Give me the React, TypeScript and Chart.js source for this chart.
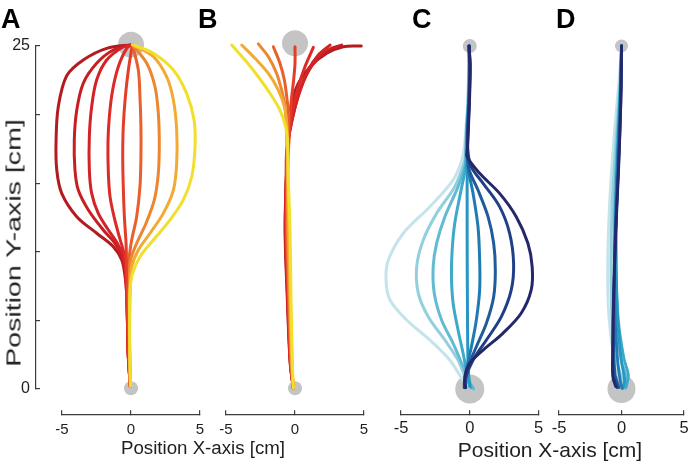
import React, { useEffect, useRef } from 'react';
import { Chart, registerables } from 'chart.js';

Chart.register(...registerables);

type Pt = [number, number];

const W = 698;
const H = 469;
const FONT = "'Liberation Sans', Arial, Helvetica, sans-serif";

// ---- axes / ticks ----
const X_TICKS = [-5, 0, 5];
const Y_TICKS = [0, 5, 10, 15, 20, 25];
const Y_LABELED = [0, 25];
const X_RANGE: [number, number] = [-5, 5];
const Y_RANGE: [number, number] = [0, 25];

// ---- colours ----
const WARM = ['#b31b1f', '#c81e22', '#d42326', '#dc2a27', '#e23e28', '#e8602b', '#ee852f', '#f3aa33', '#f2df2c'];
const COOL = ['#c4e4ec', '#94cfde', '#62bad3', '#3fa9cb', '#2697c2', '#1f7bb2', '#1f5c9b', '#213f86', '#24286b'];
const TARGET_COLOR = '#c4c4c4';

// ---- panel A (left to right: dark red ... yellow) ----
const A1: Pt[] = [[-0.05, 0.2], [-0.2, 2.5], [-0.26, 5], [-0.32, 7], [-0.43, 8.2], [-0.67, 9.4], [-1.28, 10.37], [-2.48, 11.35], [-3.93, 12.56], [-5.02, 14.26], [-5.38, 15.96], [-5.43, 18.15], [-5.27, 20.58], [-4.66, 22.83], [-3.46, 23.98], [-1.76, 24.83], [0.1, 25.1]];
const A2: Pt[] = [[-0.05, 0.2], [-0.2, 2.5], [-0.26, 5], [-0.32, 7], [-0.43, 8.67], [-0.67, 9.64], [-1.16, 10.62], [-2.01, 11.59], [-3.09, 13.05], [-3.82, 14.5], [-4.06, 15.96], [-4.11, 18.15], [-3.93, 20.33], [-3.46, 22.28], [-2.49, 23.74], [-1.28, 24.71], [0.1, 25.1]];
const A3: Pt[] = [[-0.05, 0.2], [-0.2, 2.5], [-0.26, 5], [-0.3, 7], [-0.4, 8.7], [-0.56, 9.64], [-0.99, 10.62], [-1.64, 11.59], [-2.37, 12.8], [-2.85, 14.26], [-3.02, 15.96], [-3.02, 18.39], [-2.85, 20.58], [-2.49, 22.52], [-1.76, 23.98], [-0.56, 24.95], [0.1, 25.1]];
const A4: Pt[] = [[-0.05, 0.2], [-0.2, 2.5], [-0.25, 5], [-0.3, 7], [-0.38, 8.7], [-0.51, 9.89], [-0.85, 11.1], [-1.23, 12.56], [-1.52, 14.02], [-1.64, 15.72], [-1.67, 17.91], [-1.57, 19.85], [-1.33, 21.79], [-0.92, 23.49], [-0.31, 24.83], [0.1, 25.1]];
const A5: Pt[] = [[-0.05, 0.2], [-0.18, 2.5], [-0.24, 5], [-0.28, 7], [-0.32, 9], [-0.36, 10.62], [-0.48, 12.56], [-0.56, 14.75], [-0.6, 16.93], [-0.56, 19.12], [-0.41, 21.3], [-0.19, 23.25], [0.1, 25.1]];
const A6: Pt[] = [[-0.05, 0.2], [-0.1, 2.5], [-0.12, 5], [-0.13, 7], [-0.12, 8.5], [-0.12, 9.64], [0.05, 10.86], [0.41, 12.56], [0.65, 14.75], [0.72, 16.93], [0.72, 19.12], [0.65, 21.3], [0.53, 23.25], [0.1, 25.1]];
const A7: Pt[] = [[-0.05, 0.2], [-0.1, 2.5], [-0.12, 5], [-0.12, 7.5], [-0.02, 9.4], [0.41, 10.62], [1.09, 12.08], [1.69, 13.78], [1.98, 15.72], [2.05, 17.91], [1.98, 20.09], [1.74, 22.03], [1.14, 23.74], [0.1, 25.1]];
const A8: Pt[] = [[-0.05, 0.2], [-0.1, 2.5], [-0.1, 5], [-0.05, 7.5], [0.05, 8.91], [0.53, 10.13], [1.38, 11.35], [2.34, 12.8], [3.07, 14.5], [3.31, 16.45], [3.31, 18.88], [3.07, 21.06], [2.58, 22.76], [1.62, 24.22], [0.1, 25.1]];
const A9: Pt[] = [[-0.03, 0.2], [-0.08, 2.5], [-0.1, 5], [-0.07, 7.22], [0.12, 8.43], [0.65, 9.64], [1.62, 10.86], [2.83, 12.32], [3.79, 13.78], [4.4, 15.47], [4.64, 17.66], [4.57, 19.61], [4.03, 21.55], [3.07, 23.25], [1.62, 24.47], [0.1, 25.1]];

// ---- panel B (left to right: yellow ... dark red) ----
const B1: Pt[] = [[-0.12, 0.05], [-0.19, 1.87], [-0.29, 6.73], [-0.36, 11.59], [-0.48, 15.23], [-0.53, 17.91], [-0.68, 19.12], [-1.09, 20.33], [-1.81, 21.55], [-2.66, 22.76], [-3.62, 23.98], [-4.59, 25.07]];
const B2: Pt[] = [[-0.12, 0.05], [-0.22, 1.9], [-0.35, 6.7], [-0.45, 11.6], [-0.52, 15.5], [-0.56, 18.2], [-0.6, 19.37], [-0.77, 20.58], [-1.21, 21.79], [-1.93, 23.0], [-2.9, 24.1], [-3.86, 25.07]];
const B3: Pt[] = [[-0.12, 0.05], [-0.25, 1.9], [-0.4, 6.7], [-0.52, 11.6], [-0.56, 15.5], [-0.6, 18.5], [-0.72, 20.58], [-0.97, 21.79], [-1.33, 23.0], [-1.93, 24.22], [-2.66, 25.15]];
const B4: Pt[] = [[-0.12, 0.05], [-0.28, 1.9], [-0.45, 6.7], [-0.58, 11.6], [-0.56, 15.5], [-0.5, 18.5], [-0.48, 20.09], [-0.6, 21.3], [-0.77, 22.52], [-1.09, 23.74], [-1.57, 24.95]];
const B5: Pt[] = [[-0.12, 0.05], [-0.3, 1.9], [-0.48, 6.7], [-0.62, 11.6], [-0.55, 15.5], [-0.42, 18.5], [-0.36, 19.85], [-0.24, 21.3], [-0.1, 22.52], [0, 23.74], [0, 24.95]];
const B6: Pt[] = [[-0.12, 0.05], [-0.32, 1.9], [-0.5, 6.7], [-0.66, 11.6], [-0.62, 15.5], [-0.53, 17.66], [-0.36, 19.12], [-0.12, 20.58], [0.24, 22.03], [0.72, 23.49], [1.33, 24.9]];
const B7: Pt[] = [[-0.12, 0.05], [-0.33, 1.9], [-0.52, 6.7], [-0.68, 11.6], [-0.64, 15.5], [-0.6, 17.42], [-0.36, 18.88], [-0.05, 20.33], [0.36, 21.79], [0.96, 23.25], [1.69, 24.34], [2.54, 25.07]];
const B8: Pt[] = [[-0.12, 0.05], [-0.34, 1.9], [-0.54, 6.7], [-0.7, 11.6], [-0.62, 15.5], [-0.48, 18.15], [-0.19, 19.73], [0.19, 21.19], [0.72, 22.65], [1.45, 23.86], [2.41, 24.71], [3.38, 25.07]];
const B9: Pt[] = [[-0.12, 0.05], [-0.35, 1.9], [-0.56, 6.7], [-0.72, 11.6], [-0.62, 15.5], [-0.5, 18], [-0.41, 19.12], [-0.24, 20.82], [0.24, 22.28], [1.09, 23.49], [2.3, 24.47], [3.5, 24.95], [4.8, 25.0]];

// ---- panel C (left to right: light cyan ... navy) ----
const C1: Pt[] = [[-0.05, 25], [-0.08, 23.5], [-0.15, 21], [-0.28, 19], [-0.4, 17.6], [-0.6, 16.6], [-1.21, 15.23], [-2.9, 13.29], [-4.83, 11.35], [-5.92, 9.4], [-6.09, 7.94], [-5.8, 6.49], [-4.59, 5.03], [-2.9, 3.57], [-1.45, 2.11], [-0.48, 0.66], [0.35, 0.0]];
const C2: Pt[] = [[-0.05, 25], [-0.06, 23.5], [-0.12, 21], [-0.24, 19], [-0.3, 17.5], [-0.36, 16.69], [-1.09, 14.75], [-2.41, 12.8], [-3.38, 10.86], [-3.86, 8.91], [-3.74, 6.97], [-3.02, 5.27], [-1.81, 3.57], [-0.85, 2.11], [-0.24, 0.66], [0.3, 0.0]];
const C3: Pt[] = [[-0.05, 25], [-0.05, 23.5], [-0.1, 21], [-0.22, 19], [-0.28, 17.5], [-0.31, 16.45], [-0.85, 14.75], [-1.81, 12.56], [-2.41, 10.62], [-2.66, 8.91], [-2.58, 6.97], [-2.05, 5.03], [-1.21, 3.33], [-0.48, 1.63], [0.1, 0.3], [0.3, 0.0]];
const C4: Pt[] = [[-0.05, 25], [-0.03, 23.5], [-0.08, 21], [-0.2, 19], [-0.24, 17.5], [-0.3, 16.2], [-0.68, 14.26], [-1.09, 12.08], [-1.28, 10.13], [-1.33, 8.19], [-1.21, 6.25], [-0.85, 4.3], [-0.43, 2.35], [-0.12, 0.66], [0.1, 0.1]];
const C5: Pt[] = [[-0.05, 25], [-0.02, 23.5], [-0.08, 21], [-0.18, 19], [-0.2, 17.5], [-0.19, 16.2], [-0.19, 11.35], [-0.17, 6.49], [-0.12, 1.63], [0.0, 0.2]];
const C6: Pt[] = [[-0.05, 25], [0.0, 23.5], [-0.06, 21], [-0.15, 19], [-0.18, 17.5], [-0.1, 16.0], [0.24, 14.26], [0.6, 11.83], [0.72, 9.4], [0.72, 7.22], [0.48, 5.03], [0.12, 3.08], [-0.24, 1.38], [-0.3, 0.3]];
const C7: Pt[] = [[-0.05, 25], [0.0, 23.5], [-0.05, 21], [-0.14, 19], [-0.16, 17.5], [-0.05, 16.0], [0.6, 14.5], [1.33, 12.56], [1.74, 10.62], [1.86, 8.67], [1.74, 6.73], [1.21, 4.79], [0.48, 3.08], [-0.12, 1.63], [-0.35, 0.5], [-0.3, 0.1]];
const C8: Pt[] = [[-0.05, 25], [0.02, 23.5], [-0.04, 21], [-0.12, 19], [-0.15, 17.5], [0.1, 16.2], [0.97, 14.99], [2.17, 13.29], [2.9, 11.35], [3.19, 9.16], [3.02, 7.22], [2.3, 5.27], [1.21, 3.57], [0.24, 2.11], [-0.36, 0.66], [-0.4, 0.1]];
const C9: Pt[] = [[-0.05, 25], [0.03, 23.5], [-0.02, 21], [-0.1, 19], [-0.16, 17.6], [-0.19, 16.93], [0.72, 15.72], [2.17, 14.26], [3.38, 12.56], [4.23, 10.62], [4.54, 8.91], [4.47, 7.22], [3.74, 5.52], [2.41, 4.06], [0.97, 2.84], [0.0, 1.87], [-0.36, 0.9], [-0.3, 0.1]];

// ---- panel D (light cyan ... navy) ----
const D1: Pt[] = [[0, 25], [-0.22, 22.28], [-0.58, 18.64], [-0.94, 13.78], [-1.11, 8.91], [-1.01, 5.27], [-0.58, 2.11], [-0.1, 0.66], [0.27, 0.05]];
const D2: Pt[] = [[0, 25], [-0.15, 22], [-0.45, 18], [-0.75, 13.5], [-0.85, 9], [-0.75, 5], [-0.35, 2], [0.1, 0.6], [0.35, 0.05]];
const D3: Pt[] = [[0, 25], [-0.1, 22], [-0.35, 18], [-0.55, 13.5], [-0.6, 9], [-0.45, 5], [-0.05, 2.2], [0.4, 0.8], [0.3, 0.05]];
const D4: Pt[] = [[0, 25], [-0.1, 22], [-0.3, 18], [-0.45, 13.5], [-0.45, 9], [-0.25, 5], [0.2, 2.2], [0.55, 1.0], [0.35, 0.1]];
const D5: Pt[] = [[0, 25], [-0.08, 22], [-0.25, 18], [-0.4, 13.5], [-0.42, 9], [-0.3, 5], [0.0, 2], [0.25, 0.6], [0.1, 0.05]];
const D6: Pt[] = [[0, 25], [-0.05, 22], [-0.25, 18], [-0.45, 13.5], [-0.55, 9], [-0.5, 5], [-0.3, 2], [-0.1, 0.6], [0.05, 0.05]];
const D7: Pt[] = [[0, 25], [-0.05, 22], [-0.22, 17], [-0.45, 12], [-0.6, 7], [-0.62, 3], [-0.5, 1], [-0.2, 0.1]];
const D8: Pt[] = [[0, 25], [-0.05, 21], [-0.25, 16], [-0.5, 11], [-0.65, 6.5], [-0.7, 3], [-0.65, 1], [-0.35, 0.1]];
const D9: Pt[] = [[0, 25], [-0.05, 21.06], [-0.22, 16.2], [-0.46, 11.35], [-0.63, 6.49], [-0.7, 2.84], [-0.7, 0.9], [-0.46, 0.17]];

// ---- targets: [x, y] and radius in px ----
const A_TARGETS: Pt[] = [[0, 25.1], [0, 0.05]];
const A_TARGET_R = [13, 7];
const B_TARGETS: Pt[] = [[0, 25.2], [0, 0.05]];
const B_TARGET_R = [13, 7];
const C_TARGETS: Pt[] = [[0, 25], [0, 0]];
const C_TARGET_R = [7, 14.5];
const D_TARGETS: Pt[] = [[0, 25], [0, 0]];
const D_TARGET_R = [6.5, 14];

interface Panel {
  curves: Pt[][];
  colors: string[];
  order: number[];
  targets: Pt[];
  targetR: number[];
  left: number;
  right: number;
  lineWidth: number;
  tickFont: number;
  labelPad: number;
  showY: boolean;
}

const TOP = 46;
const BOTTOM = 389;
const X_AXIS_Y = -1.895;
const Y_AXIS_X = -6.884;
const Y_LABEL_X = -7.32;

const PANELS: Panel[] = [
  {
    curves: [A1, A2, A3, A4, A5, A6, A7, A8, A9], colors: WARM,
    order: [9, 8, 7, 6, 5, 4, 3, 2, 1], targets: A_TARGETS, targetR: A_TARGET_R,
    left: 62, right: 200, lineWidth: 3, tickFont: 15, labelPad: 11, showY: true,
  },
  {
    curves: [B1, B2, B3, B4, B5, B6, B7, B8, B9], colors: [...WARM].reverse(),
    order: [1, 2, 3, 4, 5, 6, 7, 8, 9], targets: B_TARGETS, targetR: B_TARGET_R,
    left: 226, right: 364, lineWidth: 3, tickFont: 15, labelPad: 11, showY: false,
  },
  {
    curves: [C1, C2, C3, C4, C5, C6, C7, C8, C9], colors: COOL,
    order: [9, 8, 7, 6, 5, 4, 3, 2, 1], targets: C_TARGETS, targetR: C_TARGET_R,
    left: 401, right: 538.5, lineWidth: 3, tickFont: 16.5, labelPad: 9, showY: false,
  },
  {
    curves: [D1, D2, D3, D4, D5, D6, D7, D8, D9], colors: COOL,
    order: [9, 8, 7, 6, 5, 4, 3, 2, 1], targets: D_TARGETS, targetR: D_TARGET_R,
    left: 559, right: 696.5, lineWidth: 2.8, tickFont: 16.5, labelPad: 9, showY: false,
  },
];

const AXIS_COLOR = '#3c3c3c';
const TEXT_COLOR = '#1e1e1e';

function buildConfig(p: Panel): any {
  const datasets: any[] = p.curves.map((c, i) => ({
    data: c.map(([x, y]) => ({ x, y })),
    borderColor: p.colors[i],
    borderWidth: p.lineWidth,
    showLine: true,
    pointRadius: 0,
    tension: 0.33,
    clip: false,
    borderCapStyle: 'round',
    borderJoinStyle: 'round',
    order: p.order[i],
  }));
  datasets.push({
    data: p.targets.map(([x, y]) => ({ x, y })),
    pointRadius: p.targetR,
    pointBackgroundColor: TARGET_COLOR,
    pointBorderWidth: 0,
    showLine: false,
    clip: false,
    order: 50,
  });

  const scales: any = {
    x: {
      type: 'linear',
      min: X_RANGE[0],
      max: X_RANGE[1],
      position: { y: X_AXIS_Y },
      afterBuildTicks: (s: any) => { s.ticks = X_TICKS.map((v) => ({ value: v })); },
      ticks: { font: { family: FONT, size: p.tickFont }, color: TEXT_COLOR, padding: p.labelPad, maxRotation: 0 },
      grid: { drawOnChartArea: false, tickLength: -5, color: AXIS_COLOR, lineWidth: 1.2 },
      border: { color: AXIS_COLOR, width: 1.2 },
    },
    y: {
      type: 'linear',
      min: Y_RANGE[0],
      max: Y_RANGE[1],
      display: p.showY,
      position: { x: Y_AXIS_X },
      afterBuildTicks: (s: any) => { s.ticks = Y_TICKS.map((v) => ({ value: v })); },
      ticks: { display: false },
      grid: { drawOnChartArea: false, tickLength: -5, color: AXIS_COLOR, lineWidth: 1.2 },
      border: { color: AXIS_COLOR, width: 1.2 },
    },
  };
  if (p.showY) {
    scales.yLabels = {
      type: 'linear',
      axis: 'y',
      min: Y_RANGE[0],
      max: Y_RANGE[1],
      position: { x: Y_LABEL_X },
      afterBuildTicks: (s: any) => { s.ticks = Y_LABELED.map((v) => ({ value: v })); },
      ticks: { font: { family: FONT, size: 16 }, color: TEXT_COLOR, padding: 0 },
      grid: { display: false, drawTicks: false },
      border: { display: false },
    };
  }

  return {
    type: 'scatter',
    data: { datasets },
    options: {
      animation: false,
      responsive: false,
      maintainAspectRatio: false,
      events: [],
      layout: { padding: { left: p.left, right: W - p.right, top: TOP, bottom: H - BOTTOM } },
      plugins: { legend: { display: false }, tooltip: { enabled: false }, title: { display: false } },
      elements: { line: { capBezierPoints: false } },
      scales,
    },
  };
}

function PanelCanvas({ panel }: { panel: Panel }) {
  const ref = useRef<HTMLCanvasElement | null>(null);
  useEffect(() => {
    if (!ref.current) return;
    const chart = new Chart(ref.current, buildConfig(panel));
    return () => chart.destroy();
  }, [panel]);
  return (
    <canvas
      ref={ref}
      width={W}
      height={H}
      style={{ position: 'absolute', left: 0, top: 0, width: W, height: H }}
    />
  );
}

function Txt({ x, baseline, size, bold, children, anchor }: any) {
  const top = baseline - 0.85 * size;
  return (
    <div
      style={{
        position: 'absolute',
        left: x,
        top,
        fontFamily: FONT,
        fontSize: size,
        lineHeight: 1,
        fontWeight: bold ? 'bold' : 'normal',
        color: bold ? '#000' : TEXT_COLOR,
        whiteSpace: 'nowrap',
        transform: anchor === 'middle' ? 'translateX(-50%)' : undefined,
      }}
    >
      {children}
    </div>
  );
}

const LETTERS: [string, number][] = [['A', 1], ['B', 198], ['C', 412], ['D', 556]];

export default function App() {
  return (
    <div style={{ position: 'absolute', left: 0, top: 0, width: W, height: H, background: '#fff', overflow: 'hidden' }}>
      {PANELS.map((p, i) => (
        <PanelCanvas key={i} panel={p} />
      ))}
      {LETTERS.map(([t, x]) => (
        <Txt key={t} x={x} baseline={28.5} size={27} bold>
          {t}
        </Txt>
      ))}
      <Txt x={203} baseline={455} size={18.7} anchor="middle">Position X-axis [cm]</Txt>
      <Txt x={550} baseline={456.5} size={21} anchor="middle">Position X-axis [cm]</Txt>
      <div
        style={{
          position: 'absolute',
          left: 12.5,
          top: 242.5,
          fontFamily: FONT,
          fontSize: 21,
          lineHeight: 1,
          color: TEXT_COLOR,
          whiteSpace: 'nowrap',
          transform: 'translate(-50%, -50%) rotate(-90deg) scaleX(1.36)',
        }}
      >
        Position Y-axis [cm]
      </div>
    </div>
  );
}
